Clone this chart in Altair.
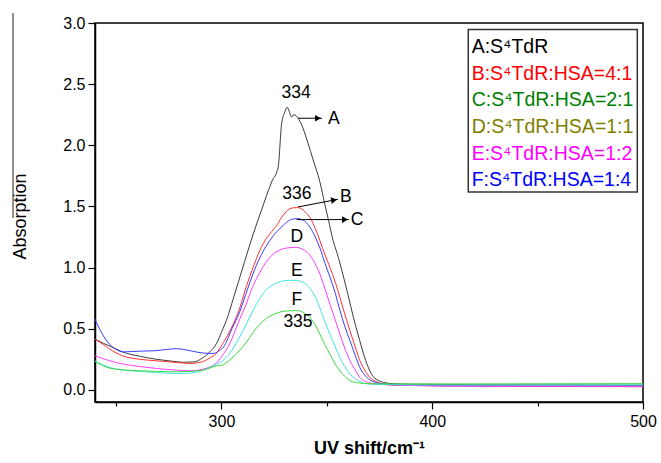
import altair as alt
import pandas as pd

# ---------------- data ----------------
series_names = ["A", "B", "C", "D", "E", "F"]
curve_colors = ["#3c3c3c", "#ff3030", "#3a3aff", "#ff3cff", "#3ee6e6", "#3cdc3c"]

a_x = [240, 244, 248, 253, 261, 269, 276, 282, 287, 291, 294.5, 297.7, 300, 303, 305.5, 308, 311, 315, 319,
       323.8, 326.9, 328.5, 330, 331.2, 332.3, 333.3, 334.3, 335.5, 336.8, 338.7, 341, 343.5, 346.7, 349,
       350.6, 353, 355.5, 357.8, 360, 362.5, 365, 367.3, 369.5, 371.5, 374, 377, 381, 390, 420, 460, 500]
a_y = [0.414, 0.38, 0.35, 0.31, 0.275, 0.25, 0.235, 0.225, 0.228, 0.26, 0.31, 0.38, 0.47, 0.60, 0.74, 0.88,
       1.05, 1.27, 1.47, 1.70, 1.82, 2.17, 2.27, 2.31, 2.27, 2.23, 2.25, 2.24, 2.21, 2.14, 2.02, 1.88, 1.70,
       1.52, 1.40, 1.22, 1.08, 0.93, 0.78, 0.60, 0.44, 0.30, 0.19, 0.12, 0.08, 0.06, 0.05, 0.045, 0.042,
       0.04, 0.037]

b_x = [240, 244, 247, 253, 261, 269, 279, 285, 291, 294.5, 297.7, 300, 304, 308.7, 311.9, 315, 318.2, 321.4,
       324.6, 326.5, 327.8, 330.9, 333, 335.7, 337.5, 340, 342, 344.5, 346.7, 349, 351.5, 354, 356.2, 358.5,
       361, 363.5, 365.7, 368, 370.5, 373, 376, 380, 390, 420, 460, 500]
b_y = [0.414, 0.37, 0.333, 0.278, 0.25, 0.237, 0.223, 0.215, 0.23, 0.26, 0.30, 0.36, 0.48, 0.67, 0.85, 1.0,
       1.14, 1.24, 1.31, 1.35, 1.39, 1.46, 1.485, 1.49, 1.485, 1.45, 1.41, 1.32, 1.22, 1.11, 1.0, 0.88,
       0.755, 0.62, 0.48, 0.35, 0.237, 0.16, 0.10, 0.07, 0.05, 0.04, 0.035, 0.03, 0.027, 0.025]

c_x = [240, 243, 247, 250, 253.4, 261.3, 269.2, 274, 278.7, 285, 291.3, 296, 299, 301, 305, 308.7, 311.9,
       315, 318.2, 321.4, 324.6, 327.8, 330.9, 333.5, 336, 338.5, 342, 344.5, 346.7, 349, 351.5, 354,
       356.2, 358.5, 361, 363.5, 365.7, 368, 370.5, 373, 376, 380, 390, 420, 460, 500]
c_y = [0.578, 0.47, 0.37, 0.33, 0.31, 0.316, 0.32, 0.33, 0.336, 0.32, 0.30, 0.297, 0.32, 0.35, 0.50, 0.64,
       0.80, 0.95, 1.08, 1.18, 1.26, 1.32, 1.37, 1.395, 1.40, 1.39, 1.33, 1.25, 1.16, 1.04, 0.92, 0.79,
       0.65, 0.52, 0.40, 0.28, 0.18, 0.12, 0.08, 0.06, 0.05, 0.042, 0.035, 0.032, 0.03, 0.03]

d_x = [240, 247, 253.4, 261.3, 269.2, 278.7, 285, 291.3, 297.7, 300, 304, 308, 311.9, 315, 318.2, 321.4,
       324.6, 328, 331, 335.5, 337, 339.5, 342, 344.5, 346.7, 349, 351.5, 354, 356.2, 358.5, 361, 363.5,
       365.7, 368, 370.5, 375, 380, 390, 420, 460, 500]
d_y = [0.278, 0.237, 0.21, 0.19, 0.174, 0.161, 0.155, 0.169, 0.22, 0.27, 0.38, 0.55, 0.71, 0.85, 0.96,
       1.05, 1.11, 1.145, 1.16, 1.165, 1.16, 1.14, 1.10, 1.03, 0.946, 0.83, 0.70, 0.57, 0.455, 0.34, 0.237,
       0.16, 0.10, 0.07, 0.055, 0.045, 0.04, 0.035, 0.03, 0.029, 0.028]

e_x = [240, 247, 253.4, 261.3, 269.2, 278.7, 285, 291.3, 297.7, 300, 304, 308, 311.9, 315, 318.2, 321.4,
       324.6, 328, 332, 335.5, 337, 339.5, 342, 344.5, 346.7, 349, 351.5, 354, 356.2, 358.5, 361, 363.5,
       365.7, 368, 370.5, 375, 380, 390, 420, 460, 500]
e_y = [0.237, 0.182, 0.161, 0.15, 0.141, 0.133, 0.136, 0.16, 0.21, 0.23, 0.30, 0.41, 0.54, 0.65, 0.745,
       0.82, 0.86, 0.885, 0.895, 0.895, 0.89, 0.87, 0.83, 0.76, 0.67, 0.56, 0.455, 0.35, 0.264, 0.19,
       0.128, 0.09, 0.065, 0.052, 0.046, 0.043, 0.042, 0.04, 0.04, 0.04, 0.04]

f_x = [240, 247, 253.4, 261.3, 269.2, 278.7, 285, 291.3, 297.7, 300, 304, 308, 311.9, 315, 318.2, 321.4,
       324.6, 328, 332, 335.5, 337, 339.5, 342, 344.5, 346.7, 349, 351.5, 354, 356.2, 358.5, 361, 363.5,
       365.7, 370, 375, 380, 390, 420, 460, 500]
f_y = [0.232, 0.177, 0.163, 0.155, 0.15, 0.147, 0.15, 0.16, 0.196, 0.20, 0.245, 0.31, 0.39, 0.47, 0.535,
       0.585, 0.615, 0.637, 0.646, 0.648, 0.645, 0.625, 0.59, 0.53, 0.455, 0.37, 0.29, 0.21, 0.155, 0.11,
       0.074, 0.06, 0.055, 0.05, 0.048, 0.048, 0.048, 0.048, 0.049, 0.05]

# annotation texts (data units)
ann_text = ["334", "A", "336", "B", "C", "D", "E", "F", "335"]
ann_x = [335.4, 350.5, 335.8, 356.2, 361.4, 335.8, 335.8, 335.8, 336.3]
ann_y = [2.425, 2.212, 1.599, 1.575, 1.386, 1.247, 0.969, 0.732, 0.552]
ann_align = ["center", "left", "center", "left", "left", "center", "center", "center", "center"]

# arrows: start -> tip
arr_x = [336.3, 336.3, 335.7]
arr_y = [2.221, 1.495, 1.392]
arr_x2 = [347.7, 355.3, 360.5]
arr_y2 = [2.221, 1.558, 1.392]
head_x = [345.8, 353.4, 358.6]
head_y = [2.221, 1.552, 1.392]
head_angle = [0, 349, 0]

# legend box
legend_labels = ["A:S\u2074TdR", "B:S\u2074TdR:HSA=4:1", "C:S\u2074TdR:HSA=2:1",
                 "D:S\u2074TdR:HSA=1:1", "E:S\u2074TdR:HSA=1:2", "F:S\u2074TdR:HSA=1:4"]
legend_colors = ["#000000", "#ff0000", "#008000", "#808000", "#ff00ff", "#0000ff"]
legend_x = 418.7
legend_y = [2.804, 2.586, 2.368, 2.150, 1.932, 1.713]
box_x, box_x2, box_y, box_y2 = 417.1, 497.3, 2.946, 1.618

FONT = "Liberation Sans"

# ---------------- build ----------------
rows = []
for name, xs, ys in zip(series_names, [a_x, b_x, c_x, d_x, e_x, f_x], [a_y, b_y, c_y, d_y, e_y, f_y]):
    for i, (xv, yv) in enumerate(zip(xs, ys)):
        rows.append({"series": name, "x": xv, "y": yv, "i": i})
df = pd.DataFrame(rows)

xscale = alt.Scale(domain=[240, 500], nice=False, zero=False)
yscale = alt.Scale(domain=[-0.1, 3.0], nice=False, zero=False)

xaxis = alt.Axis(
    values=[250, 300, 350, 400, 450, 500],
    labelExpr="datum.value % 100 == 0 ? datum.label : ''",
    tickSize=alt.expr("datum.value % 100 == 0 ? 7 : 4"),
    labelFlush=False, labelOverlap=False, grid=False,
    labelFont=FONT, labelFontSize=16, labelColor="#000", labelPadding=4,
    tickColor="#000", tickWidth=1.2, domainColor="#000", domainWidth=1.5,
    title="UV shift/cm\u207b\u00b9", titleFont=FONT, titleFontSize=18, titleFontWeight="bold",
    titleColor="#000", titleY=51, titleBaseline="alphabetic",
)
yaxis = alt.Axis(
    values=[0, 0.25, 0.5, 0.75, 1.0, 1.25, 1.5, 1.75, 2.0, 2.25, 2.5, 2.75, 3.0],
    labelExpr="datum.value % 0.5 == 0 ? format(datum.value, '.1f') : ''",
    tickSize=alt.expr("datum.value % 0.5 == 0 ? 7 : 4"),
    labelOverlap=False, grid=False,
    labelFont=FONT, labelFontSize=16, labelColor="#000", labelPadding=3,
    tickColor="#000", tickWidth=1.2, domainColor="#000", domainWidth=1.5,
    title="Absorption", titleFont=FONT, titleFontSize=18, titleFontWeight="normal",
    titleColor="#000", titleX=-70, titleY=193, titleAngle=270, titleAlign="center",
    titleBaseline="alphabetic",
)

lines = alt.Chart(df).mark_line(strokeWidth=1, interpolate="monotone").encode(
    x=alt.X("x:Q", scale=xscale, axis=xaxis),
    y=alt.Y("y:Q", scale=yscale, axis=yaxis),
    color=alt.Color("series:N", scale=alt.Scale(domain=series_names, range=curve_colors), legend=None),
    detail="series:N",
    order="i:Q",
)

ann_df = pd.DataFrame({"t": ann_text, "x": ann_x, "y": ann_y, "al": ann_align})
ann_c = alt.Chart(ann_df[ann_df.al == "center"]).mark_text(
    font=FONT, fontSize=17.5, color="#000", baseline="middle", align="center"
).encode(x="x:Q", y="y:Q", text="t:N")
ann_l = alt.Chart(ann_df[ann_df.al == "left"]).mark_text(
    font=FONT, fontSize=17.5, color="#000", baseline="middle", align="left"
).encode(x="x:Q", y="y:Q", text="t:N")

arr_df = pd.DataFrame({"x": arr_x, "y": arr_y, "x2": arr_x2, "y2": arr_y2})
arrows = alt.Chart(arr_df).mark_rule(color="#000", strokeWidth=1).encode(
    x="x:Q", y="y:Q", x2="x2:Q", y2="y2:Q")
head_df = pd.DataFrame({"x": head_x, "y": head_y, "a": head_angle})
heads = alt.Chart(head_df).mark_point(shape="triangle-right", filled=True, size=45, color="#000",
                                      opacity=1).encode(
    x="x:Q", y="y:Q", angle=alt.Angle("a:Q", scale=None))

box = alt.Chart(pd.DataFrame({"x": [box_x], "x2": [box_x2], "y": [box_y], "y2": [box_y2]})).mark_rect(
    fillOpacity=0, stroke="#333", strokeWidth=1.5).encode(x="x:Q", x2="x2:Q", y="y:Q", y2="y2:Q")

leg_df = pd.DataFrame({"t": legend_labels, "c": legend_colors, "y": legend_y, "x": [legend_x] * 6})
leg = alt.Chart(leg_df).mark_text(font=FONT, fontSize=19.5, align="left", baseline="middle").encode(
    x="x:Q", y="y:Q", text="t:N", color=alt.Color("c:N", scale=None))

overline = alt.Chart(pd.DataFrame({"a": [0]})).mark_rule(color="#222", strokeWidth=1).encode(
    x=alt.value(-82), y=alt.value(-10), y2=alt.value(195))

chart = alt.layer(lines, arrows, heads, ann_c, ann_l, box, leg, overline).properties(
    width=548, height=379,
    autosize=alt.AutoSizeParams(type="none"),
    padding={"left": 95, "top": 23, "right": 18, "bottom": 61},
    background="white",
).configure_view(stroke="#000", strokeWidth=1.5)

chart.save("out.html", embed_options={"renderer": "svg", "actions": False})
